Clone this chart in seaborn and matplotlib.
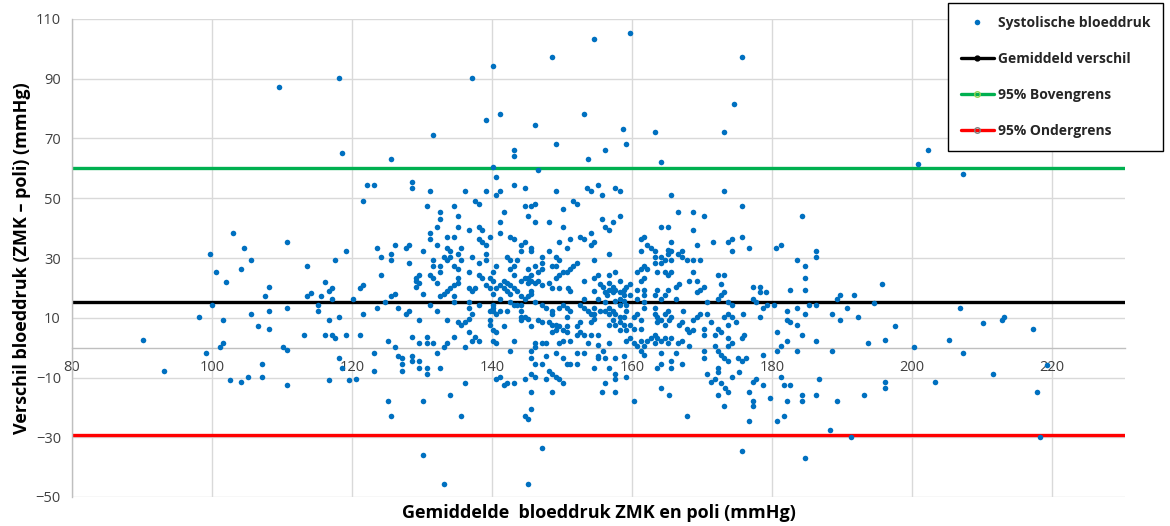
import matplotlib
matplotlib.use("Agg")
import matplotlib.pyplot as plt
from matplotlib.lines import Line2D
import seaborn as sns
import pandas as pd

# ---- data: (mean of ZMK & poli, difference ZMK - poli) ----
pts_below_120 = [
    (90.1, 2.4), (93.1, -7.8), (99.7, 31.4), (100.6, 25.3), (102.0, 22.1), (100.0, 14.2), (98.2, 10.3),
    (101.6, 9.3), (104.1, 26.3), (105.6, 29.2), (105.6, 11.3), (106.6, 7.1), (108.1, 6.2), (108.1, 12.2),
    (107.5, 17.4), (108.1, 20.3), (110.7, 13.1), (113.6, 27.2), (113.6, 17.4), (114.1, 18.3), (115.6, 17.4),
    (116.1, 22.1), (116.7, 19.1), (117.1, 20.1), (117.1, 16.4), (117.6, 29.2), (119.1, 32.3), (115.1, 14.2),
    (115.1, 12.2), (116.7, 9.3), (118.2, 10.3), (113.1, 4.3), (116.1, 4.3), (117.1, 4.3), (117.6, 3.3),
    (119.1, 4.3), (101.6, 1.4), (101.1, 0.2), (99.1, -1.8), (110.1, 0.2), (110.7, -0.8), (107.1, -5.6),
    (118.2, -3.6), (118.6, -6.8), (102.6, -10.7), (104.1, -11.6), (105.1, -9.7), (107.1, -9.7), (110.7, -12.6),
    (116.7, -10.7), (119.6, -10.7), (118.2, 90.4), (109.6, 87.1), (118.6, 65.2), (103.0, 38.4), (104.5, 33.3),
    (110.7, 35.2),
]

pts_120_157_upper = [
    (125.6, 63.3), (131.6, 71.2), (137.1, 90.4), (140.2, 94.2), (139.1, 76.3), (141.1, 78.2), (148.6, 97.4),
    (154.6, 103.4), (146.2, 74.4), (153.1, 78.2), (149.2, 68.3), (143.1, 66.1), (143.1, 64.2), (153.7, 63.3),
    (156.1, 66.1), (140.2, 60.4), (146.6, 59.4), (140.6, 57.2), (122.1, 54.4), (123.1, 54.4), (121.6, 49.2),
    (128.6, 55.4), (128.6, 53.4), (131.1, 52.5), (136.1, 52.5), (137.6, 49.2), (138.2, 48.2), (139.1, 52.5),
    (140.6, 51.1), (141.1, 52.5), (143.1, 54.4), (144.7, 53.4), (149.2, 52.5), (153.6, 53.4), (154.1, 52.5),
    (155.1, 54.4), (155.7, 51.1), (151.6, 49.2), (152.2, 48.2), (130.7, 47.3), (132.6, 45.4), (132.6, 43.2),
    (134.6, 47.3), (135.1, 44.1), (141.7, 45.4), (144.7, 47.3), (145.6, 47.3), (146.2, 48.2), (145.1, 44.1),
    (150.1, 46.3), (155.7, 43.2), (141.1, 42.2), (146.2, 42.2), (148.1, 42.2), (132.2, 40.3), (131.1, 38.4),
    (131.1, 36.2), (135.1, 40.3), (136.7, 39.3), (138.2, 40.3), (138.6, 39.3), (133.6, 37.1), (134.6, 37.1),
    (138.2, 36.2), (138.6, 35.2), (139.1, 34.3), (139.7, 37.1), (141.1, 38.4), (142.6, 37.1), (143.1, 36.2),
    (144.7, 35.2), (144.2, 34.3), (150.1, 40.3), (149.6, 35.2), (151.1, 36.2), (152.6, 37.1), (153.1, 36.2),
    (154.1, 38.4), (154.6, 35.2), (154.1, 34.3), (156.1, 40.3), (156.7, 39.3), (123.6, 33.3), (126.2, 34.3),
    (128.1, 34.3), (127.7, 33.3), (132.2, 34.3), (133.6, 33.3), (135.6, 33.3), (145.6, 33.3), (150.7, 33.3),
]

pts_120_157_mid = [
    (125.6, 31.3), (125.6, 29.3), (124.2, 30.4), (128.1, 28.2), (130.1, 32.4), (131.6, 29.3), (131.6, 27.3),
    (132.6, 27.3), (132.6, 25.3), (134.0, 32.4), (133.1, 30.4), (133.6, 29.3), (134.0, 30.4), (135.1, 31.3),
    (134.6, 27.3), (135.1, 26.2), (135.6, 29.3), (137.1, 30.4), (139.1, 31.3), (139.1, 29.3), (138.2, 28.2),
    (136.7, 25.3), (138.2, 24.2), (138.6, 23.4), (140.2, 25.3), (139.7, 23.4), (140.6, 27.3), (142.1, 30.4),
    (142.6, 29.3), (143.6, 29.3), (143.1, 27.3), (143.1, 24.2), (142.6, 26.2), (144.1, 32.4), (145.6, 32.4),
    (147.1, 30.4), (147.1, 28.2), (146.2, 27.3), (147.1, 26.2), (146.6, 25.3), (145.1, 26.2), (145.6, 24.2),
    (145.1, 23.4), (148.1, 32.4), (149.2, 30.4), (149.6, 29.3), (148.6, 27.3), (149.2, 27.3), (152.2, 28.2),
    (151.6, 27.3), (151.1, 26.2), (150.7, 25.3), (150.1, 25.3), (149.6, 24.2), (149.2, 23.4), (154.6, 29.3),
    (155.1, 24.2), (156.7, 24.2), (154.6, 23.4), (124.2, 24.4), (121.5, 20.8), (121.1, 19.9), (120.1, 16.4),
    (126.1, 18.1), (125.6, 17.2), (129.2, 23.4), (129.6, 24.2), (129.2, 22.4), (129.6, 21.6), (129.2, 20.4),
    (130.1, 18.1), (131.1, 24.2), (131.6, 23.4), (132.2, 21.6), (132.6, 17.2), (133.1, 18.1), (133.6, 19.0),
    (134.0, 19.9), (134.6, 20.8), (135.1, 21.6), (134.6, 17.2), (135.1, 23.4), (136.7, 19.9), (137.1, 19.0),
    (137.6, 19.9), (139.1, 20.8), (139.7, 19.9), (140.2, 22.4), (140.6, 19.9), (141.1, 20.8), (141.7, 19.9),
    (142.1, 21.6), (142.6, 20.8), (143.1, 19.9), (143.6, 19.0), (141.7, 22.4), (142.1, 19.0), (142.6, 18.1),
    (144.1, 22.4), (144.7, 23.4), (145.1, 21.6), (145.6, 22.4), (146.2, 21.6), (146.6, 22.4), (145.6, 19.0),
    (145.6, 18.1), (144.1, 17.2), (144.7, 16.3), (147.1, 20.8), (148.1, 21.6), (148.6, 19.9), (149.6, 19.9),
    (150.9, 19.9), (153.1, 22.4), (151.1, 19.0), (154.6, 19.0), (156.7, 21.6), (141.1, 16.3), (140.2, 18.1),
    (123.6, 13.2), (124.7, 15.2), (126.6, 13.2), (127.7, 11.2), (128.1, 12.3), (121.5, 11.2), (131.1, 14.3),
    (132.2, 12.3), (134.6, 15.2), (136.7, 15.2), (136.7, 13.2), (137.1, 11.2), (138.2, 14.3), (140.2, 14.3),
    (140.2, 13.2), (140.2, 12.3), (140.6, 11.2), (139.7, 12.3), (141.1, 12.3), (142.1, 12.3), (142.6, 15.2),
    (143.1, 14.3), (143.6, 14.3), (144.1, 14.3), (144.1, 12.3), (144.7, 10.4), (144.1, 10.4), (145.1, 17.2),
    (146.2, 15.2), (147.1, 14.3), (147.7, 13.2), (148.6, 12.3), (148.6, 11.2), (149.6, 13.2), (150.1, 14.3),
    (150.7, 13.2), (151.1, 12.3), (150.7, 10.4), (152.6, 14.3), (153.1, 13.2), (153.7, 12.3), (154.1, 11.2),
    (154.6, 13.2), (155.1, 16.3), (156.1, 15.2), (156.1, 12.3), (156.7, 11.2), (153.1, 16.3), (154.6, 11.2),
]

pts_120_157_lower = [
    (121.1, 4.3), (125.1, 2.3), (126.2, 0.1), (128.6, 3.4), (129.6, 1.4), (130.7, 3.4), (130.7, 1.4),
    (131.6, 1.4), (129.6, 9.3), (132.2, -1.8), (133.6, 9.3), (133.1, 0.1), (133.6, 1.4), (134.6, 3.4),
    (135.1, 8.5), (135.6, 7.7), (136.1, 8.5), (136.7, 5.2), (137.1, 2.3), (137.6, 3.4), (138.2, 2.3),
    (136.1, 0.1), (136.7, 9.7), (139.7, 9.3), (139.7, 7.7), (140.2, 6.0), (140.6, 5.2), (140.2, 2.3),
    (140.6, 1.4), (141.7, 7.1), (143.1, 2.3), (142.6, -1.0), (144.1, 9.3), (145.1, 9.7), (145.6, 7.1),
    (146.6, 9.3), (147.1, 8.5), (148.1, 8.5), (146.2, 1.4), (147.1, 1.4), (147.7, 1.4), (145.6, -1.0),
    (146.2, 0.1), (148.6, 5.2), (148.6, 7.7), (149.2, 7.7), (149.2, 6.0), (149.6, 7.1), (150.1, 6.0),
    (150.7, 5.2), (150.7, 7.1), (149.6, 1.4), (150.1, 2.3), (151.1, 2.3), (152.2, 4.3), (152.6, 5.2),
    (153.1, 4.3), (154.1, 4.3), (155.1, 4.3), (152.2, 7.1), (152.6, 8.5), (154.1, 8.5), (154.6, 9.7),
    (153.7, 1.4), (155.1, 1.0), (156.7, 1.4), (123.1, -1.8), (123.1, -7.7), (126.6, -2.7), (127.2, -3.5),
    (127.2, -5.5), (127.2, -7.7), (128.6, -2.7), (128.6, -4.6), (129.6, -4.6), (129.6, -6.8), (130.7, -6.8),
    (130.7, -8.7), (132.6, -6.8), (120.6, -10.6), (140.6, -10.6), (141.1, -9.7), (141.7, -12.6), (142.1, -11.8),
    (143.1, -11.8), (144.7, -10.6), (145.6, -8.7), (146.2, -9.7), (145.6, -3.5), (146.2, -5.5), (147.1, -5.5),
    (147.7, -2.7), (147.7, -10.6), (148.1, -7.7), (148.6, -8.7), (149.2, -9.7), (149.6, -10.6), (150.1, -11.8),
    (149.2, -1.8), (150.1, -3.5), (150.7, -5.5), (151.1, -5.5), (152.2, -1.8), (153.1, -1.8), (152.2, -5.5),
    (154.6, -6.8), (155.1, -2.7), (155.1, -3.5), (156.7, -6.8), (156.1, -11.8), (155.7, -14.8), (136.1, -11.8),
    (134.0, -15.8), (125.1, -17.7), (125.6, -22.9), (130.1, -17.7), (135.6, -22.9), (145.6, -14.8),
    (148.6, -14.8), (145.6, -20.7), (144.7, -22.9), (145.1, -23.8), (147.1, -33.7), (130.1, -35.8),
    (133.1, -45.7), (145.1, -45.7),
]

pts_157_194_upper = [
    (159.7, 105.3), (175.7, 97.4), (174.6, 81.5), (173.1, 72.2), (163.2, 72.2), (158.7, 73.1), (159.1, 68.3),
    (164.1, 62.3), (157.6, 53.4), (158.2, 52.5), (165.6, 51.1), (173.1, 52.5), (175.7, 47.3), (166.6, 45.4),
    (168.7, 45.4), (170.2, 44.1), (184.2, 44.1), (158.2, 44.1), (157.2, 42.2), (164.1, 40.3), (165.1, 40.3),
    (168.7, 39.3), (161.2, 36.2), (161.7, 37.1), (162.1, 34.3), (162.7, 33.3), (165.6, 35.2), (169.2, 34.3),
    (171.6, 35.2), (173.7, 35.2), (174.2, 36.2), (175.7, 37.1), (176.7, 33.3), (180.6, 33.3), (181.2, 34.3),
    (156.7, 31.3), (161.2, 32.4), (163.2, 32.4), (163.2, 30.4), (164.1, 30.4), (165.1, 31.3), (165.6, 32.4),
    (165.1, 32.6), (166.6, 31.3), (167.1, 30.4), (167.1, 32.4), (167.8, 29.3), (168.7, 29.3), (169.7, 29.3),
    (174.2, 32.4), (186.2, 32.4), (186.2, 30.4), (183.6, 29.3), (184.7, 27.3),
]

pts_157_194_mid = [
    (163.2, 28.2), (164.1, 28.2), (164.7, 29.3), (165.6, 29.3), (161.2, 26.2), (161.7, 27.3), (162.1, 26.2),
    (160.7, 25.3), (157.6, 25.3), (158.2, 22.4), (159.7, 21.2), (159.1, 20.4), (161.7, 23.4), (161.2, 22.4),
    (163.6, 25.3), (164.7, 25.3), (165.1, 24.2), (165.6, 25.3), (168.7, 25.3), (168.1, 22.4), (169.2, 22.4),
    (172.2, 24.4), (173.1, 24.4), (172.7, 21.2), (184.7, 23.4), (184.7, 19.4), (182.6, 19.4), (177.2, 20.4),
    (178.2, 20.4), (178.2, 18.5), (179.1, 18.5), (155.4, 21.2), (155.8, 20.4), (156.1, 18.5), (156.7, 19.4),
    (157.2, 20.4), (157.6, 19.4), (157.2, 18.5), (158.2, 18.5), (158.8, 19.4), (158.8, 17.5), (158.2, 16.4),
    (156.4, 17.5), (157.6, 15.5), (158.2, 14.3), (158.8, 15.5), (159.1, 14.3), (159.7, 17.5), (160.7, 19.4),
    (161.7, 19.4), (160.7, 16.4), (161.7, 17.5), (161.7, 15.2), (163.2, 17.5), (163.6, 19.4), (164.1, 16.4),
    (164.7, 17.5), (165.1, 19.4), (166.2, 20.4), (166.7, 21.2), (166.2, 16.4), (169.2, 18.5), (169.7, 19.4),
    (170.2, 20.4), (170.7, 15.2), (172.2, 16.4), (172.7, 17.5), (173.1, 18.5), (173.7, 15.2), (174.2, 14.3),
    (177.3, 16.4), (177.7, 15.2), (178.7, 13.2), (179.2, 14.3), (180.2, 14.3), (182.1, 12.3), (183.6, 13.2),
    (185.2, 14.3), (186.2, 14.3), (189.2, 16.4), (189.7, 17.5), (190.7, 13.2), (191.7, 17.5), (188.6, 11.2),
    (189.7, 9.3), (192.2, 10.4), (184.7, 11.2), (155.4, 12.3), (157.2, 12.3), (157.6, 11.2), (158.2, 10.4),
    (157.2, 9.3), (157.6, 7.6), (156.7, 7.6), (158.2, 8.5), (158.8, 10.4), (159.1, 12.3), (158.8, 7.6),
    (159.1, 6.0), (158.2, 6.0), (159.7, 7.6), (160.2, 6.3), (160.7, 11.2), (160.2, 10.4), (161.2, 9.3),
    (161.2, 6.3), (156.7, 13.2), (161.7, 13.2), (163.2, 13.2), (163.2, 11.2), (163.6, 10.4), (164.1, 9.3),
    (164.7, 11.2), (165.1, 12.3), (165.2, 9.3), (165.6, 10.4), (163.6, 8.5), (164.7, 7.6), (167.2, 12.3),
    (166.7, 7.6), (167.1, 8.5), (167.8, 6.3), (168.7, 9.3), (169.2, 10.4), (169.7, 11.2), (168.1, 5.2),
    (168.7, 6.0), (170.7, 11.2), (170.2, 6.3), (170.2, 4.3), (171.2, 8.5), (172.2, 6.3), (171.8, 4.3),
    (172.7, 5.2), (173.1, 10.4), (173.7, 11.2), (174.2, 10.4), (173.7, 7.6), (173.7, 3.2), (174.8, 8.5),
    (175.8, 11.2), (176.0, 4.3), (175.7, 3.2), (178.2, 10.4), (182.1, 9.3), (182.6, 8.5), (183.6, 7.6),
    (180.7, 5.2), (184.2, 4.3), (186.2, 2.3),
]

pts_157_194_lower = [
    (155.8, -1.0), (159.1, 2.3), (159.7, 3.2), (160.2, 1.4), (161.2, 2.3), (160.7, 0.4), (161.2, -1.0),
    (161.7, 0.4), (162.1, 2.3), (162.7, 3.2), (163.2, 4.3), (163.6, 3.2), (164.1, 2.3), (164.7, 3.2),
    (165.1, 1.4), (165.6, 3.2), (166.6, 1.4), (163.2, 1.4), (161.7, -2.4), (158.8, -2.7), (157.6, -3.5),
    (156.1, -3.5), (164.1, -1.8), (166.2, -1.8), (168.1, 0.4), (167.1, 2.3), (170.2, -1.0), (170.2, -3.5),
    (171.8, 0.4), (172.2, -1.0), (172.7, -2.4), (173.1, -3.5), (173.7, 0.4), (174.2, 1.4), (173.7, -4.6),
    (175.1, -3.5), (175.7, -4.6), (176.2, -3.5), (178.7, -2.4), (181.2, 0.4), (180.7, -1.0), (182.1, 2.3),
    (183.6, -1.0), (188.6, -1.0), (157.6, -8.8), (157.6, -10.6), (159.1, -9.7), (157.6, -14.8), (160.2, -17.7),
    (164.1, -13.5), (165.2, -15.8), (163.6, -6.8), (164.1, -5.5), (165.6, -4.6), (165.6, -6.8), (167.1, -5.5),
    (170.7, -8.8), (171.2, -11.5), (171.8, -10.6), (172.2, -6.8), (172.2, -8.0), (172.7, -11.8), (173.2, -13.5),
    (173.7, -14.8), (172.2, -15.8), (173.1, -19.7), (174.2, -9.7), (175.3, -8.0), (176.7, -14.8), (177.2, -17.7),
    (177.2, -19.7), (177.2, -11.5), (177.7, -10.6), (178.7, -12.6), (179.7, -16.9), (181.2, -9.7), (181.7, -12.6),
    (182.6, -12.6), (182.1, -17.7), (184.2, -15.8), (184.2, -17.7), (186.2, -15.8), (186.7, -10.6), (189.2, -17.7),
    (176.7, -24.7), (181.7, -22.9), (180.7, -24.7), (167.8, -22.9), (175.7, -34.7), (184.7, -37.0),
    (188.2, -27.6), (191.2, -29.8),
]

pts_above_192 = [
    (200.8, 61.4), (202.2, 66.2), (207.2, 58.2), (195.7, 21.3), (194.6, 15.1), (206.8, 13.2), (197.6, 7.2),
    (193.7, 1.4), (196.1, 2.4), (200.2, 0.2), (205.2, 2.4), (207.2, -1.8), (210.1, 8.4), (212.8, 9.4),
    (213.1, 10.3), (217.2, 6.2), (211.6, -8.7), (203.2, -11.6), (196.1, -11.6), (196.1, -13.5), (193.1, -15.9),
    (217.8, -14.9), (218.2, -29.8), (219.2, -5.7),
]

mean_diff = 15.4
upper_loa = 60.1
lower_loa = -29.3

x_ticks = [80, 100, 120, 140, 160, 180, 200, 220]
y_ticks = [-50, -30, -10, 10, 30, 50, 70, 90, 110]

series_label = "Systolische bloeddruk"
mean_label = "Gemiddeld verschil"
upper_label = "95% Bovengrens"
lower_label = "95% Ondergrens"
x_label = "Gemiddelde  bloeddruk ZMK en poli (mmHg)"
y_label = "Verschil bloeddruk (ZMK \u2013 poli) (mmHg)"

all_pts = (pts_below_120 + pts_120_157_upper + pts_120_157_mid + pts_120_157_lower
           + pts_157_194_upper + pts_157_194_mid + pts_157_194_lower + pts_above_192)
df = pd.DataFrame(all_pts, columns=["gemiddelde", "verschil"])

# ---- style ----
sns.set_theme(style="white")
plt.rcParams["font.family"] = ["Open Sans", "DejaVu Sans"]

fig = plt.figure(figsize=(11.7, 5.26), dpi=100)
ax = fig.add_axes([72 / 1170, 1 - 497 / 526, (1125 - 72) / 1170, (497 - 19) / 526])

blue = "#0070C0"
grid_c = "#d9d9d9"

ax.set_xlim(80, 230.4)
ax.set_ylim(-50, 110)
ax.set_xticks(x_ticks)
ax.set_yticks(y_ticks)
ax.grid(True, color=grid_c, linewidth=1.0, zorder=0)
ax.set_axisbelow(True)

for s in ["top", "right"]:
    ax.spines[s].set_visible(False)
ax.spines["left"].set_color("#bfbfbf")
ax.spines["bottom"].set_color("#bfbfbf")
ax.spines["bottom"].set_position(("data", 0))
ax.spines["left"].set_linewidth(1.0)
ax.spines["bottom"].set_linewidth(1.0)

ax.axhline(upper_loa, color="#00B050", linewidth=2.4, zorder=2)
ax.axhline(lower_loa, color="#FF0000", linewidth=2.4, zorder=2)
ax.axhline(mean_diff, color="black", linewidth=2.4, zorder=2)

sns.scatterplot(data=df, x="gemiddelde", y="verschil", ax=ax, color=blue, s=16,
                linewidth=0, zorder=3, legend=False)

ax.tick_params(axis="both", length=0, labelsize=10.5, labelcolor="#404040")
ax.tick_params(axis="x", pad=9)
ax.tick_params(axis="y", pad=8)

ax.set_xlabel(x_label, fontsize=13, fontweight="bold", color="black")
ax.set_ylabel(y_label, fontsize=13, fontweight="bold", color="black")
ax.xaxis.set_label_coords(0.5, -(504 - 497) / 478)
ax.yaxis.set_label_coords((31 - 72) / 1053, 0.5)

handles = [
    Line2D([], [], linestyle="none", marker="o", markersize=4, color=blue, markeredgewidth=0),
    Line2D([], [], color="black", linewidth=2.4, marker="o", markersize=3.5),
    Line2D([], [], color="#00B050", linewidth=2.4, marker="o", markersize=4,
           markerfacecolor="none", markeredgecolor="#92D050"),
    Line2D([], [], color="#FF0000", linewidth=2.4, marker="o", markersize=4,
           markerfacecolor="none", markeredgecolor="#7f7f7f"),
]
labels = [series_label, mean_label, upper_label, lower_label]
leg = fig.legend(handles, labels, loc="upper left", bbox_to_anchor=(948 / 1170, 1 - 3 / 526),
                 frameon=True, fancybox=False, edgecolor="black", framealpha=1,
                 prop={"weight": "bold", "size": 10}, labelspacing=1.6, handlelength=2.4,
                 handletextpad=0.3, borderpad=0.9, borderaxespad=0)
leg.get_frame().set_linewidth(1.0)

fig.savefig("out.png", dpi=100)
